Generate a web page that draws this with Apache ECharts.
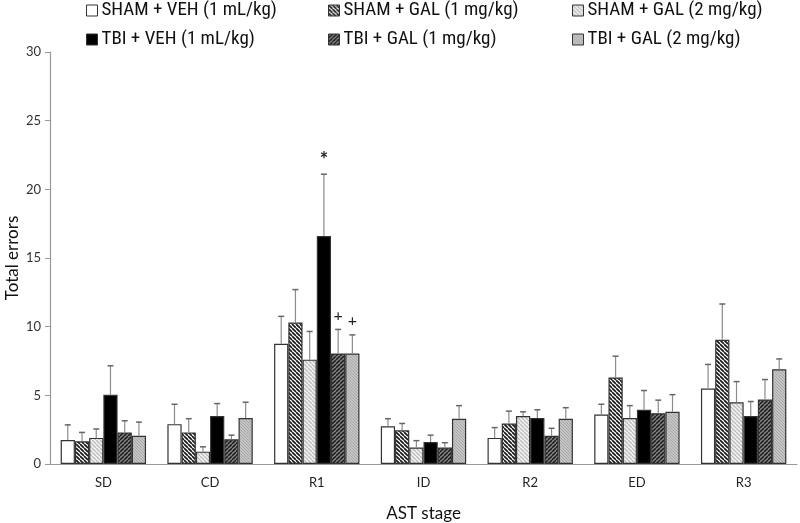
<!DOCTYPE html>
<html>
<head>
<meta charset="utf-8">
<script src="https://cdn.jsdelivr.net/npm/echarts@6/dist/echarts.min.js"></script>
<style>html,body{margin:0;padding:0;background:#fff;}#main{width:800px;height:523px;}</style>
</head>
<body>
<div id="main"></div>
<script>
var categories = ['SD', 'CD', 'R1', 'ID', 'R2', 'ED', 'R3'];
var seriesNames = ['SHAM + VEH (1 mL/kg)', 'SHAM + GAL (1 mg/kg)', 'SHAM + GAL (2 mg/kg)', 'TBI + VEH (1 mL/kg)', 'TBI + GAL (1 mg/kg)', 'TBI + GAL (2 mg/kg)'];
var shamVeh = [1.75, 2.9, 8.75, 2.75, 1.9, 3.6, 5.5];
var shamVehErr = [1.1, 1.45, 2.0, 0.55, 0.75, 0.75, 1.75];
var shamGal1 = [1.65, 2.3, 10.3, 2.45, 2.95, 6.3, 9.05];
var shamGal1Err = [0.65, 1.0, 2.4, 0.5, 0.9, 1.55, 2.6];
var shamGal2 = [1.9, 0.9, 7.6, 1.2, 3.5, 3.35, 4.5];
var shamGal2Err = [0.65, 0.35, 2.05, 0.5, 0.3, 0.9, 1.5];
var tbiVeh = [5.05, 3.5, 16.6, 1.6, 3.35, 3.95, 3.5];
var tbiVehErr = [2.1, 0.9, 4.5, 0.5, 0.6, 1.4, 1.05];
var tbiGal1 = [2.3, 1.8, 8.05, 1.2, 2.05, 3.7, 4.7];
var tbiGal1Err = [0.85, 0.3, 1.75, 0.35, 0.55, 0.95, 1.45];
var tbiGal2 = [2.05, 3.35, 8.05, 3.3, 3.3, 3.8, 6.9];
var tbiGal2Err = [1.0, 1.15, 1.35, 0.95, 0.8, 1.25, 0.75];
var tbiVehMarks = ['', '', '*', '', '', '', ''];
var tbiGal1Marks = ['', '', '+', '', '', '', ''];
var tbiGal2Marks = ['', '', '+', '', '', '', ''];
var yTicks = [0, 5, 10, 15, 20, 25, 30];

var values = [shamVeh, shamGal1, shamGal2, tbiVeh, tbiGal1, tbiGal2];
var errors = [shamVehErr, shamGal1Err, shamGal2Err, tbiVehErr, tbiGal1Err, tbiGal2Err];
var marks = [null, null, null, tbiVehMarks, tbiGal1Marks, tbiGal2Marks];

function hatch(bg, fg, lw, step, dir) {
  var c = document.createElement('canvas');
  c.width = step; c.height = step;
  var ctx = c.getContext('2d');
  ctx.fillStyle = bg; ctx.fillRect(0, 0, step, step);
  ctx.strokeStyle = fg; ctx.lineWidth = lw;
  for (var o = -step; o <= step; o += step) {
    ctx.beginPath();
    if (dir > 0) { ctx.moveTo(o, 0); ctx.lineTo(o + step, step); }
    else { ctx.moveTo(o + step, 0); ctx.lineTo(o, step); }
    ctx.stroke();
  }
  return { image: c, repeat: 'repeat' };
}
var fills = [
  '#ffffff',
  hatch('#ffffff', '#1a1a1a', 1.7, 4, 1),
  hatch('#f2f2f2', '#bdbdbd', 1.3, 4, 1),
  '#000000',
  hatch('#8a8a8a', '#222222', 1.6, 4, -1),
  hatch('#c4c4c4', '#a8a8a8', 1, 3, 1)
];

var FONT = '"Liberation Sans Narrow", "Roboto Condensed", Lato, sans-serif';
var FONT2 = 'Lato, "Open Sans", sans-serif';
var series = [];
values.forEach(function (vals, k) {
  series.push({
    name: seriesNames[k], type: 'bar', data: vals,
    barGap: '0%', barCategoryGap: '20%',
    itemStyle: { color: fills[k], borderColor: '#333', borderWidth: 1.2 },
    emphasis: { disabled: true }, z: 2
  });
});
values.forEach(function (vals, k) {
  var d = vals.map(function (v, i) { return [i, v, errors[k][i], marks[k] ? marks[k][i] : '']; });
  series.push({
    type: 'custom', data: d, z: 3, silent: true,
    renderItem: function (params, api) {
      var ci = api.value(0), v = api.value(1), e = api.value(2);
      var mk = d[params.dataIndex][3];
      var base = api.coord([ci, v]);
      var top = api.coord([ci, v + e]);
      var bw = api.size([1, 0])[0] * 0.8 / 6;
      var x = base[0] + (k - 2.5) * bw;
      var ch = [
        { type: 'line', shape: { x1: x, y1: base[1], x2: x, y2: top[1] }, style: { stroke: '#8c8c8c', lineWidth: 1.2 } },
        { type: 'line', shape: { x1: x - 3, y1: top[1], x2: x + 3, y2: top[1] }, style: { stroke: '#666', lineWidth: 1.5 } }
      ];
      if (mk) {
        ch.push({ type: 'text', style: { text: mk, x: x, y: top[1] - 14, align: 'center', verticalAlign: 'middle', font: (mk === '*' ? 'bold 20px ' : '16px ') + FONT2, fill: '#222' } });
      }
      return { type: 'group', children: ch };
    }
  });
});

var legendPos = [[86, 1], [328, 1], [572, 1], [86, 30], [328, 30], [572, 30]];
var legends = seriesNames.map(function (n, k) {
  return {
    data: [n], left: legendPos[k][0], top: legendPos[k][1], padding: 0,
    icon: 'rect', itemWidth: 11, itemHeight: 11, itemGap: 4,
    itemStyle: { borderColor: '#333', borderWidth: 1 },
    textStyle: { fontFamily: FONT, fontSize: 19, color: '#111', padding: [0, 0, 0, -1] },
    selectedMode: false
  };
});

var chart = echarts.init(document.getElementById('main'));
chart.setOption({
  animation: false,
  legend: legends,
  grid: { left: 50, right: 3, top: 52, bottom: 59, outerBoundsMode: 'none', containLabel: false },
  xAxis: {
    type: 'category', data: categories,
    axisLine: { lineStyle: { color: '#999', width: 1.2 } },
    axisTick: { show: false },
    axisLabel: { fontFamily: FONT2, fontSize: 13, color: '#222', margin: 12 },
    name: 'AST stage', nameLocation: 'middle', nameGap: 41, nameMoveOverlap: false,
    nameTextStyle: { fontFamily: FONT2, fontSize: 17, color: '#111' }
  },
  yAxis: {
    type: 'value', min: yTicks[0], max: yTicks[yTicks.length - 1], interval: 5,
    axisLine: { show: true, lineStyle: { color: '#999', width: 1.2 } },
    axisTick: { show: true, length: 5, lineStyle: { color: '#999' } },
    splitLine: { show: false },
    axisLabel: { fontFamily: FONT2, fontSize: 13, color: '#333', margin: 9 },
    name: 'Total errors', nameLocation: 'middle', nameGap: 29, nameMoveOverlap: false,
    nameTextStyle: { fontFamily: FONT2, fontSize: 17, color: '#111' }
  },
  series: series
});
</script>
</body>
</html>
